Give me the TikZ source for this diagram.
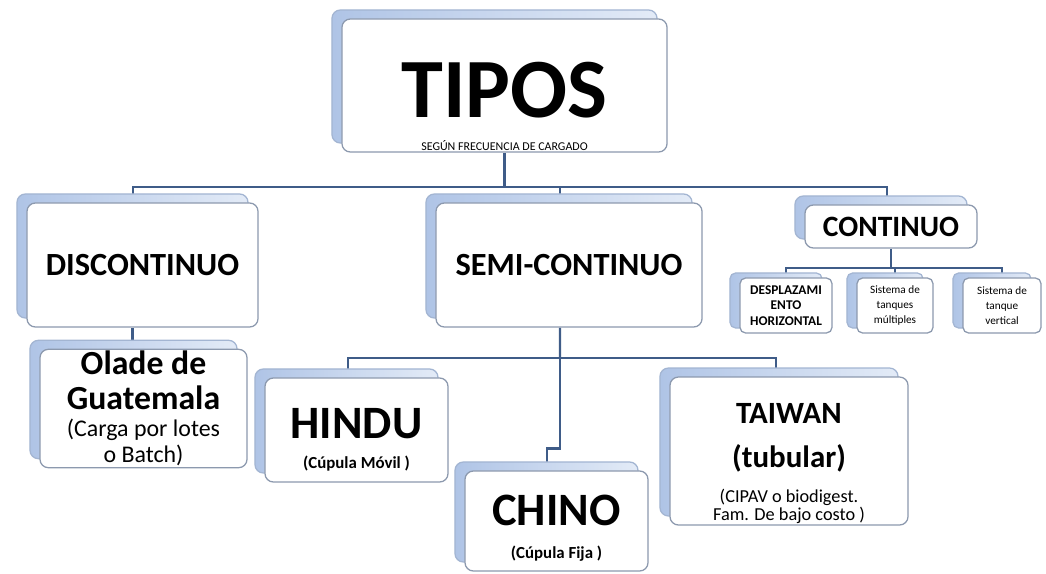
\documentclass[tikz,border=0pt]{standalone}
\usepackage{fontspec}
\setmainfont{Carlito}
\usetikzlibrary{positioning, shadows, backgrounds}
\definecolor{boxedge}{HTML}{8C99AE}
\definecolor{backedge}{HTML}{A3B5D2}
\definecolor{backdark}{HTML}{AFC4E6}
\definecolor{backlight}{HTML}{E3EBF7}
\definecolor{linkblue}{HTML}{3F5C88}

\begin{document}
\begin{tikzpicture}[
    x=0.025cm, y=-0.025cm,
    boxbase/.style={draw=boxedge, fill=white, line width=0.9pt, align=center, inner sep=1pt},
    box/.style={boxbase, rounded corners=6pt,
        copy shadow={shadow xshift=-0.25cm, shadow yshift=0.225cm, draw=backedge, left color=backdark, right color=backlight}},
    smallbox/.style={boxbase, rounded corners=4pt, minimum height=1.375cm,
        copy shadow={shadow xshift=-0.25cm, shadow yshift=0.125cm, draw=backedge, left color=backdark, right color=backlight}},
    note/.style={inner sep=1pt, font=\fontsize{8.5}{9}\selectfont},
    link/.style={draw=linkblue, line width=1.7pt}
]
\useasboundingbox (0,0) rectangle (1046,573);

% top
\node[box, minimum width=8.125cm, minimum height=3.325cm, font=\fontsize{60}{60}\selectfont\bfseries] (tipos) at (504.5,85.5) {\rule{0pt}{46pt}TIPOS};
\node[note, above=0pt of tipos.south] (tiposnote) {SEGÚN FRECUENCIA DE CARGADO};

% second row
\node[box, minimum width=5.775cm, minimum height=3.1cm, font=\fontsize{23}{23}\selectfont\bfseries] (disc) at (142.5,265) {DISCONTINUO};
\node[box, minimum width=6.65cm, minimum height=3.1cm, font=\fontsize{23}{23}\selectfont\bfseries] (semi) at (569,265) {SEMI-CONTINUO};
\node[box, minimum width=4.3cm, minimum height=1.075cm, font=\fontsize{21}{21}\selectfont\bfseries] (cont) at (891,226.5) {CONTINUO};

% continuo
\node[smallbox, minimum width=2.3cm, font=\fontsize{9.5}{11}\selectfont\bfseries] (desp) at (786,305.5) {DESPLAZAMI\\ENTO\\HORIZONTAL};
\node[smallbox, minimum width=1.9cm, font=\fontsize{8}{10.5}\selectfont] (multi) at (895,305.5) {Sistema de\\tanques\\múltiples};
\node[smallbox, minimum width=1.95cm, font=\fontsize{8}{10.5}\selectfont] (vert) at (1002,305.5) {Sistema de\\tanque\\vertical};

% discontinuo
\node[box, minimum width=5.175cm, minimum height=2.825cm, font=\fontsize{24}{25}\selectfont\bfseries] (olade) at (143.5,408.5)
    {Olade de\\Guatemala\\[-6pt]\fontsize{17}{19}\selectfont\mdseries (Carga por lotes\\[-6pt]\fontsize{17}{19}\selectfont\mdseries o Batch)};

% semi-continuo
\node[box, minimum width=4.575cm, minimum height=2.6cm, font=\fontsize{33}{33}\selectfont\bfseries] (hindu) at (356.5,430)
    {\rule{0pt}{35pt}HINDU\\[-11.5pt]\fontsize{12}{12}\selectfont (Cúpula Móvil )};
\node[box, minimum width=4.575cm, minimum height=2.5cm, font=\fontsize{33}{33}\selectfont\bfseries] (chino) at (556.5,521)
    {\rule{0pt}{32pt}CHINO\\[-9pt]\fontsize{12}{12}\selectfont (Cúpula Fija )};
\node[box, minimum width=5.95cm, minimum height=3.45cm, font=\fontsize{22}{30}\selectfont\bfseries] (taiwan) at (789,451)
    {\rule{0pt}{32pt}TAIWAN\\[1pt](tubular)\\[-5pt]\fontsize{13}{14}\selectfont\mdseries (CIPAV o biodigest.\\[-17pt]\fontsize{13}{14}\selectfont\mdseries Fam. De bajo costo )};

\begin{scope}[on background layer]
\coordinate (topbus) at (504.5,187);
\coordinate (midbus) at (560,358);
\coordinate (rightbus) at (891,268);
\draw[link] (tipos.south) -- (topbus);
\draw[link] ([xshift=-0.24cm]disc.north) |- (topbus) -| ([xshift=-0.1cm]cont.north);
\draw[link] ([xshift=-0.225cm]semi.north) -- ([xshift=-0.225cm]semi.north |- topbus);
\draw[link] ([xshift=-0.25cm]disc.south) -- ([xshift=-0.25cm]disc.south |- olade.north);
\draw[link] ([xshift=-0.225cm]semi.south) -- (midbus);
\draw[link] ([xshift=-0.21cm]hindu.north) |- (midbus) -| ([xshift=-0.325cm]taiwan.north);
\draw[link] (midbus) |- ([xshift=-0.24cm, yshift=0.55cm]chino.north) -- ([xshift=-0.24cm]chino.north);
\draw[link] (cont.south) -- (rightbus);
\draw[link] (desp.north) |- (rightbus) -| (vert.north);
\draw[link] (multi.north) -- (multi.north |- rightbus);
\end{scope}
\end{tikzpicture}
\end{document}
